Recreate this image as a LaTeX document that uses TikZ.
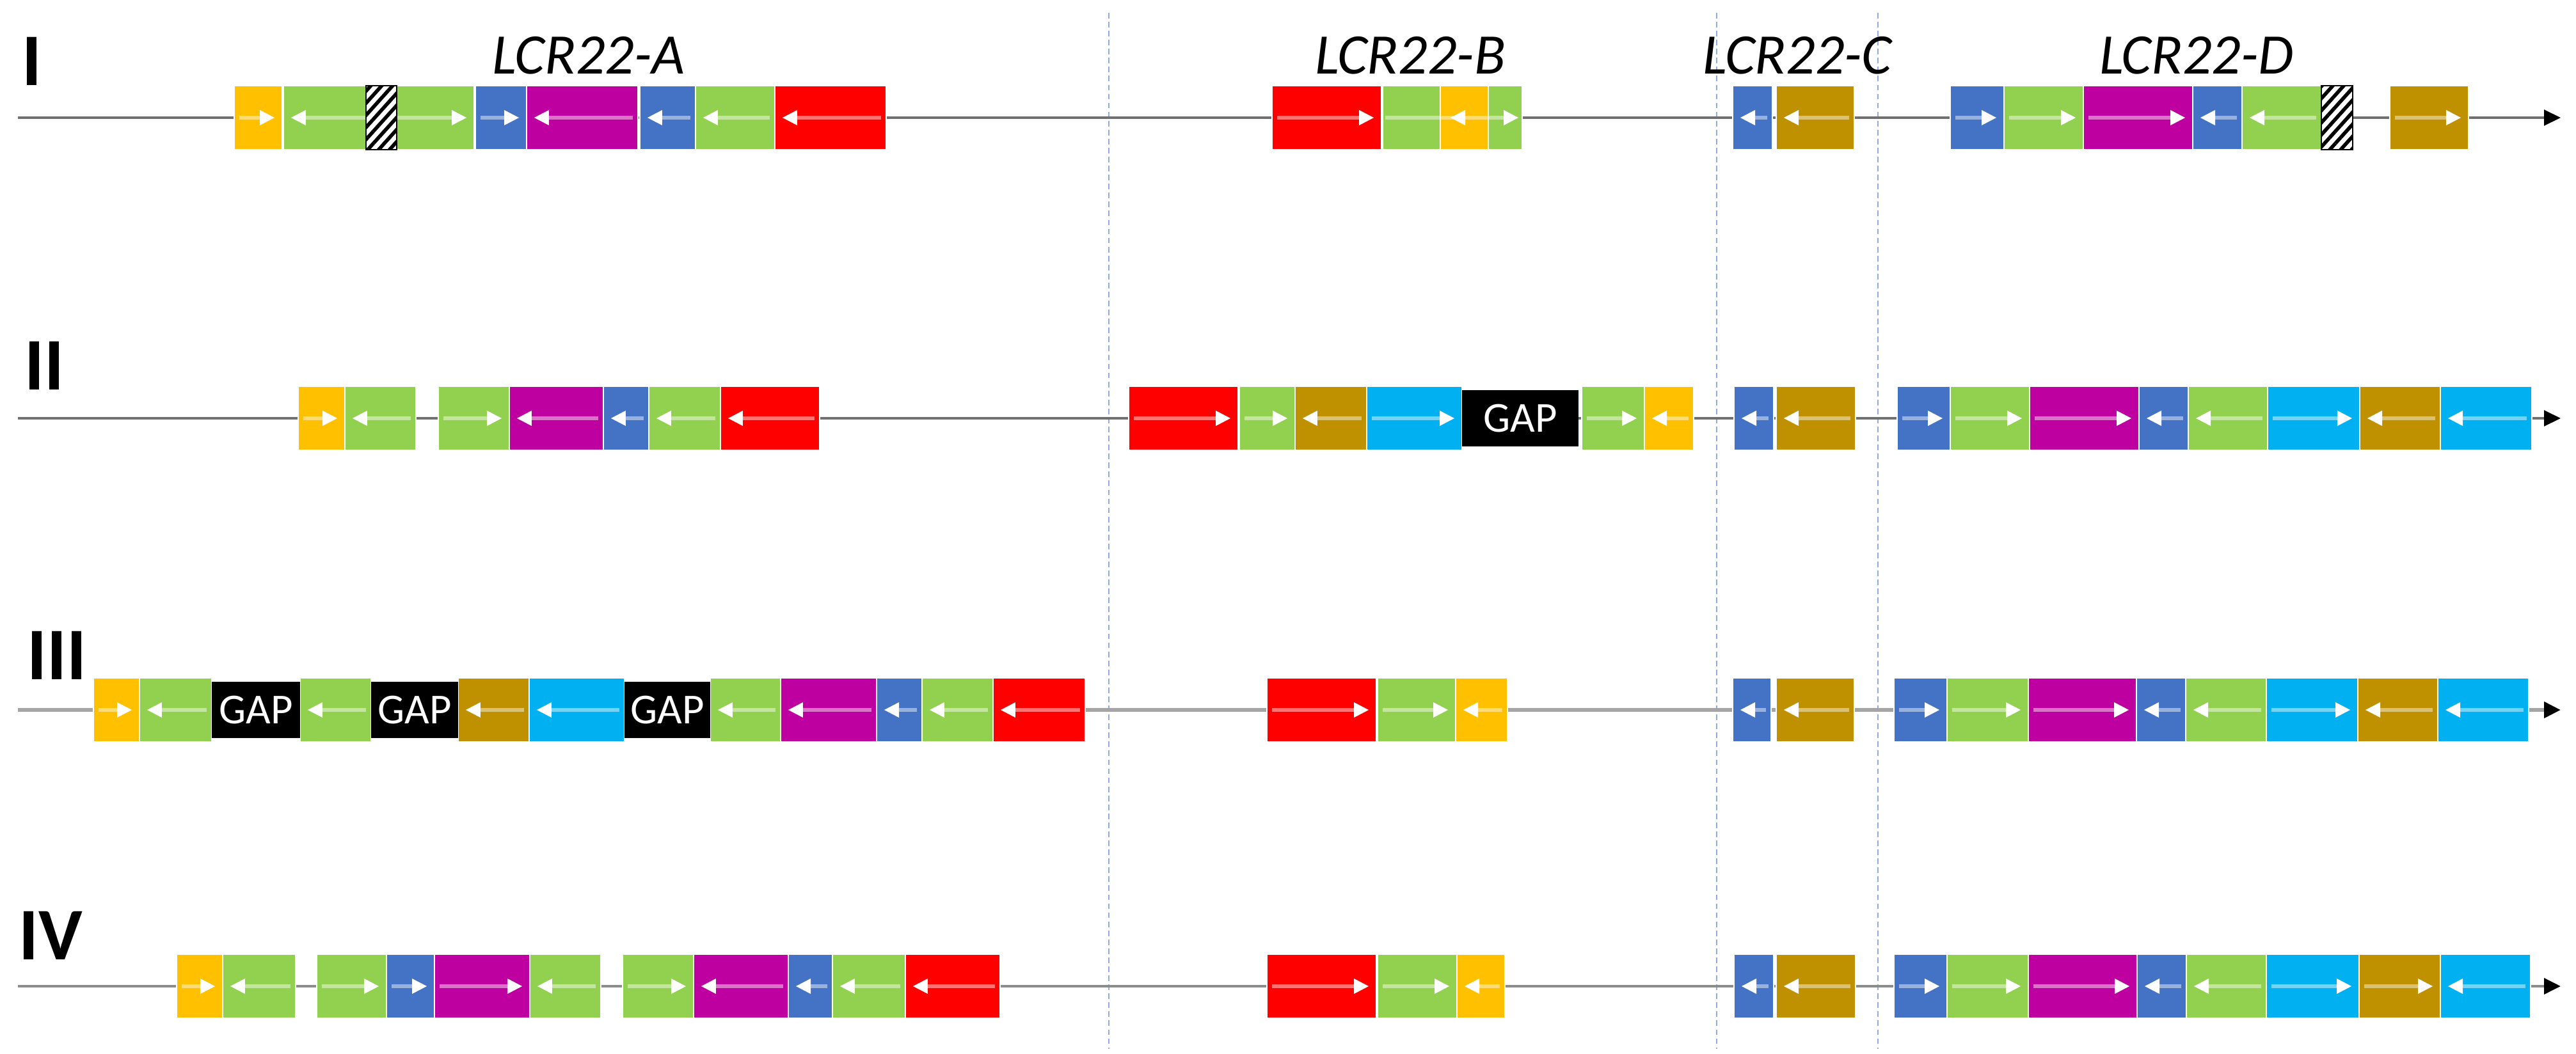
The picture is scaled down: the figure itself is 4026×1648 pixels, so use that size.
\documentclass[tikz,border=0pt]{standalone}
\usepackage{fontspec}
\setmainfont{Carlito}
\usetikzlibrary{arrows.meta,patterns.meta}
\definecolor{cY}{HTML}{FFC000}
\definecolor{cG}{HTML}{92D050}
\definecolor{cB}{HTML}{4472C4}
\definecolor{cM}{RGB}{190,0,160}
\definecolor{cR}{HTML}{FF0000}
\definecolor{cBr}{HTML}{BF9000}
\definecolor{cC}{HTML}{00B0F0}
\definecolor{lineA}{HTML}{707070}
\definecolor{lineC}{HTML}{A5A5A5}
\definecolor{lineD}{HTML}{8C8C8C}
\definecolor{divC}{HTML}{8FAADC}
\tikzset{
 blk/.style={rectangle, draw=white, line width=0.6pt, minimum height=1cm, inner sep=0pt, outer sep=0pt},
 shaft/.style={draw=white, draw opacity=0.45, line width=1.6pt},
 head/.style={fill=white},
 gapbox/.style={rectangle, fill=black, text=white, minimum height=0.88cm, inner sep=0pt, outer sep=0pt, font=\fontsize{19}{19}\selectfont},
 hatchbox/.style={rectangle, draw=black, line width=0.8pt, minimum height=1cm, inner sep=0pt, outer sep=0pt, preaction={fill=white}, pattern={Lines[angle=48,distance=3.6pt,line width=1.6pt]}, pattern color=black},
 rowline/.style={line width=1pt, -{Triangle[length=7.4pt,width=7pt,color=black]}},
 divider/.style={draw=divC, line width=0.7pt, dash pattern=on 2.5pt off 1.5pt},
 lcr/.style={font=\fontsize{25.5}{26}\selectfont\itshape, anchor=base, inner sep=0pt},
 rowlab/.style={font=\fontsize{33}{33}\selectfont\bfseries, anchor=base west, inner sep=0pt},
}
\newcommand\rarr[1]{%
 \draw[shaft] ([xshift=0.08cm]#1.west) -- ([xshift=-0.28cm]#1.east);
 \fill[head] ([xshift=-0.12cm]#1.east) -- ++(-23,-12) -- ++(0,24) -- cycle;}
\newcommand\larr[1]{%
 \draw[shaft] ([xshift=-0.08cm]#1.east) -- ([xshift=0.28cm]#1.west);
 \fill[head] ([xshift=0.12cm]#1.west) -- ++(23,-12) -- ++(0,24) -- cycle;}
\newcommand\barr[1]{%
 \draw[shaft] ([xshift=0.28cm]#1.west) -- ([xshift=-0.28cm]#1.east);
 \fill[head] ([xshift=0.12cm]#1.west) -- ++(23,-12) -- ++(0,24) -- cycle;
 \fill[head] ([xshift=-0.12cm]#1.east) -- ++(-23,-12) -- ++(0,24) -- cycle;}
\newcommand\blkrow[3]{%
 \foreach \xa/\xb/\col/\dir [count=\i] in {#3} {
  \pgfmathsetmacro\bcx{(\xa+\xb)/2}
  \pgfmathsetmacro\bwid{(\xb-\xa)/100}
  \node[blk, fill=\col, minimum width=\bwid cm] (#2\i) at (\bcx,#1) {};
  \ifcase\dir\or\rarr{#2\i}\or\larr{#2\i}\or\barr{#2\i}\fi
 }}
\begin{document}
\begin{tikzpicture}[x=0.01cm,y=-0.01cm]
\useasboundingbox (0,0) rectangle (4026,1648);
% dividers
\foreach \dx [count=\k] in {1733,2683,2935} {
 \coordinate (dt\k) at (\dx,20);
 \coordinate (db\k) at (\dx,1640);
 \draw[divider] (dt\k) -- (db\k);
}
% row lines
\coordinate (s1) at (28,184); \coordinate (e1) at (4002,184);
\coordinate (s2) at (28,654); \coordinate (e2) at (4002,654);
\coordinate (s3) at (28,1110); \coordinate (e3) at (4002,1110);
\coordinate (s4) at (28,1542); \coordinate (e4) at (4002,1542);
\draw[rowline, draw=lineA] (s1) -- (e1);
\draw[rowline, draw=lineA] (s2) -- (e2);
\draw[rowline, draw=lineC, line width=1.7pt] (s3) -- (e3);
\draw[rowline, draw=lineD, line width=1.4pt] (s4) -- (e4);
% labels
\node[rowlab] (L1) at (34,133) {I};
\node[rowlab] (L2) at (38,609) {II};
\node[rowlab] (L3) at (42,1062) {III};
\node[rowlab] (L4) at (29,1500) {IV};
\node[lcr] (tA) at (920,115) {LCR22-A};
\node[lcr] (tB) at (2204,115) {LCR22-B};
\node[lcr] (tC) at (2809,115) {LCR22-C};
\node[lcr] (tD) at (3433,115) {LCR22-D};
% row I
\blkrow{184}{ra}{366/441/cY/1, 443/741/cG/3, 743/823/cB/1, 823/997/cM/2, 1000/1087/cB/2, 1087/1211/cG/2, 1211/1385/cR/2, 1988/2159/cR/1, 2161/2251/cG/0, 2251/2326/cY/0, 2326/2379/cG/0, 2708/2770/cB/2, 2776/2898/cBr/2, 3048/3132/cB/1, 3132/3256/cG/1, 3256/3427/cM/1, 3427/3504/cB/2, 3504/3628/cG/2, 3735/3858/cBr/1}
\draw[shaft] ([xshift=0.04cm]ra9.west) -- ([xshift=-0.2cm]ra11.east);
\fill[head] ([xshift=0.16cm]ra10.west) -- ++(23,-12) -- ++(0,24) -- cycle;
\fill[head] ([xshift=-0.06cm]ra11.east) -- ++(-23,-12) -- ++(0,24) -- cycle;
\node[hatchbox, minimum width=0.48cm] (h1) at (596,184) {};
\node[hatchbox, minimum width=0.49cm] (h2) at (3652.5,184) {};
% row II
\blkrow{654}{rb}{466/539/cY/1, 539/650/cG/2, 685/796/cG/1, 796/943/cM/2, 943/1014/cB/2, 1014/1126/cG/2, 1126/1281/cR/2, 1764/1935/cR/1, 1937/2024/cG/1, 2024/2136/cBr/2, 2136/2285/cC/1, 2472/2570/cG/1, 2570/2647/cY/2, 2710/2772/cB/2, 2776/2900/cBr/2, 2965/3048/cB/1, 3048/3172/cG/1, 3172/3343/cM/1, 3343/3420/cB/2, 3420/3544/cG/2, 3544/3688/cC/1, 3688/3814/cBr/2, 3814/3957/cC/2}
\node[gapbox, minimum width=1.82cm] (g1) at (2376,654) {GAP};
% row III
\blkrow{1110}{rc}{146/218/cY/1, 218/331/cG/2, 469/580/cG/2, 716/827/cBr/2, 827/976/cC/2, 1110/1220/cG/2, 1220/1370/cM/2, 1370/1441/cB/2, 1441/1552/cG/2, 1552/1696/cR/2, 1980/2151/cR/1, 2153/2275/cG/1, 2275/2356/cY/2, 2708/2768/cB/2, 2776/2898/cBr/2, 2960/3043/cB/1, 3043/3170/cG/1, 3170/3339/cM/1, 3339/3416/cB/2, 3416/3542/cG/2, 3542/3685/cC/1, 3685/3810/cBr/2, 3810/3952/cC/2}
\node[gapbox, minimum width=1.38cm] (g2) at (400,1110) {GAP};
\node[gapbox, minimum width=1.36cm] (g3) at (648,1110) {GAP};
\node[gapbox, minimum width=1.34cm] (g4) at (1043,1110) {GAP};
% row IV
\blkrow{1542}{rd}{276/348/cY/1, 348/462/cG/2, 495/604/cG/1, 604/679/cB/1, 679/828/cM/1, 828/939/cG/2, 973/1084/cG/1, 1084/1232/cM/2, 1232/1301/cB/2, 1301/1415/cG/2, 1415/1563/cR/2, 1980/2151/cR/1, 2153/2277/cG/1, 2277/2352/cY/2, 2710/2772/cB/2, 2776/2900/cBr/2, 2960/3043/cB/1, 3043/3170/cG/1, 3170/3340/cM/1, 3340/3417/cB/2, 3417/3542/cG/2, 3542/3687/cC/1, 3687/3814/cBr/1, 3814/3955/cC/2}
\end{tikzpicture}
\end{document}
